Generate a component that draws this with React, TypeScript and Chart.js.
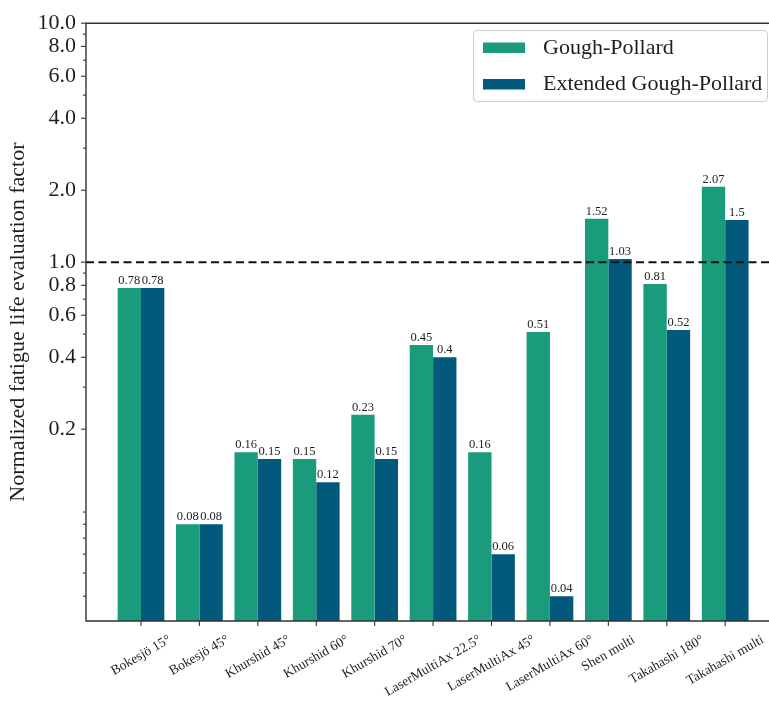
import React, { useEffect, useRef } from 'react';
import { Chart, registerables } from 'chart.js';

Chart.register(...registerables);

const CATEGORIES = [
  'Bokesjö 15°',
  'Bokesjö 45°',
  'Khurshid 45°',
  'Khurshid 60°',
  'Khurshid 70°',
  'LaserMultiAx 22.5°',
  'LaserMultiAx 45°',
  'LaserMultiAx 60°',
  'Shen multi',
  'Takahashi 180°',
  'Takahashi multi',
];
const GOUGH_POLLARD = [0.78, 0.08, 0.16, 0.15, 0.23, 0.45, 0.16, 0.51, 1.52, 0.81, 2.07];
const EXTENDED_GOUGH_POLLARD = [0.78, 0.08, 0.15, 0.12, 0.15, 0.4, 0.06, 0.04, 1.03, 0.52, 1.5];
const SERIES_LABELS = ['Gough-Pollard', 'Extended Gough-Pollard'];
const SERIES_COLORS = ['#1a9c7c', '#03597c'];
const Y_MAJOR_TICKS = [0.2, 0.4, 0.6, 0.8, 1, 2, 4, 6, 8, 10];
const Y_MINOR_TICKS = [0.04, 0.05, 0.06, 0.07, 0.08, 0.09, 0.3, 0.5, 0.7, 0.9, 3, 5, 7, 9];
const Y_MIN = 0.0315;
const Y_MAX = 10;
const REFERENCE_LEVEL = 1;
const Y_TITLE = 'Normalized fatigue life evaluation factor';

const SERIF = '"Liberation Serif", "Times New Roman", Times, serif';
const INK = '#1e1e1e';
const SPINE = '#333333';

const SERIES = [GOUGH_POLLARD, EXTENDED_GOUGH_POLLARD];

const overlay = {
  id: 'overlay',
  afterDatasetsDraw(chart: any) {
    const { ctx, chartArea, scales } = chart;
    const { left, right } = chartArea;
    const y = scales.y;
    ctx.save();

    // dashed reference line at 1.0, over the bars
    const yRef = y.getPixelForValue(REFERENCE_LEVEL);
    ctx.setLineDash([8, 4.5]);
    ctx.lineWidth = 2;
    ctx.strokeStyle = '#111111';
    ctx.beginPath();
    ctx.moveTo(left, yRef);
    ctx.lineTo(right, yRef);
    ctx.stroke();
    ctx.setLineDash([]);

    // value labels above each bar
    ctx.font = `12.5px ${SERIF}`;
    ctx.fillStyle = INK;
    ctx.textAlign = 'center';
    ctx.textBaseline = 'alphabetic';
    SERIES.forEach((values, di) => {
      const meta = chart.getDatasetMeta(di);
      meta.data.forEach((bar: any, i: number) => {
        ctx.fillText(String(values[i]), bar.x, bar.y - 4);
      });
    });
    ctx.restore();
  },
  afterDraw(chart: any) {
    const { ctx, chartArea, scales } = chart;
    const { left, right, top, bottom } = chartArea;
    const x = scales.x;
    const y = scales.y;
    ctx.save();

    // spines (left, top, bottom)
    ctx.strokeStyle = SPINE;
    ctx.lineWidth = 1.4;
    ctx.beginPath();
    ctx.moveTo(right, top);
    ctx.lineTo(left, top);
    ctx.lineTo(left, bottom);
    ctx.lineTo(right, bottom);
    ctx.stroke();

    // y tick marks: long for labelled, short for minor
    ctx.lineWidth = 1.1;
    Y_MAJOR_TICKS.forEach((v) => {
      const py = y.getPixelForValue(v);
      ctx.beginPath();
      ctx.moveTo(left - 5, py);
      ctx.lineTo(left, py);
      ctx.stroke();
    });
    Y_MINOR_TICKS.forEach((v) => {
      const py = y.getPixelForValue(v);
      ctx.beginPath();
      ctx.moveTo(left - 3, py);
      ctx.lineTo(left, py);
      ctx.stroke();
    });

    // x tick marks and rotated category labels
    ctx.font = `13.5px ${SERIF}`;
    ctx.fillStyle = INK;
    ctx.textAlign = 'center';
    ctx.textBaseline = 'middle';
    const ang = Math.PI / 6;
    CATEGORIES.forEach((label, i) => {
      const px = x.getPixelForValue(i);
      ctx.beginPath();
      ctx.moveTo(px, bottom);
      ctx.lineTo(px, bottom + 5);
      ctx.stroke();
      const w = ctx.measureText(label).width;
      const h = 13.5;
      const boxH = w * Math.sin(ang) + h * Math.cos(ang);
      ctx.save();
      ctx.translate(px, bottom + 12 + boxH / 2);
      ctx.rotate(-ang);
      ctx.fillText(label, 0, 0);
      ctx.restore();
    });

    // y axis title
    ctx.save();
    ctx.font = `22px ${SERIF}`;
    ctx.translate(18.5, (top + bottom) / 2);
    ctx.rotate(-Math.PI / 2);
    ctx.textAlign = 'center';
    ctx.textBaseline = 'middle';
    ctx.fillText(Y_TITLE, 0, 0);
    ctx.restore();

    // legend
    const lx = 473;
    const ly = 30;
    const lw = 295;
    const lh = 71;
    ctx.beginPath();
    ctx.roundRect(lx + 0.5, ly + 0.5, lw - 1, lh, 4);
    ctx.fillStyle = 'rgba(255,255,255,0.9)';
    ctx.fill();
    ctx.strokeStyle = '#cccccc';
    ctx.lineWidth = 1;
    ctx.stroke();
    ctx.font = `22px ${SERIF}`;
    ctx.textAlign = 'left';
    ctx.textBaseline = 'alphabetic';
    SERIES_LABELS.forEach((name, i) => {
      const rowY = ly + 12.5 + i * 36.5;
      ctx.fillStyle = SERIES_COLORS[i];
      ctx.fillRect(lx + 10, rowY, 42, 10.5);
      ctx.fillStyle = INK;
      ctx.fillText(name, lx + 70, rowY + 11);
    });

    ctx.restore();
  },
};

export default function App() {
  const canvasRef = useRef<HTMLCanvasElement | null>(null);

  useEffect(() => {
    const canvas = canvasRef.current;
    if (!canvas) return;
    const allYTicks = [...Y_MINOR_TICKS, ...Y_MAJOR_TICKS].sort((a, b) => a - b);
    const chart = new Chart(canvas, {
      type: 'bar',
      data: {
        datasets: SERIES.map((values, di) => ({
          label: SERIES_LABELS[di],
          data: values.map((v, i) => ({ x: i, y: v })),
          backgroundColor: SERIES_COLORS[di],
          borderWidth: 0,
          categoryPercentage: 0.8,
          barPercentage: 1.0,
        })),
      },
      options: {
        responsive: false,
        animation: false,
        devicePixelRatio: 1,
        layout: { padding: { top: 18, bottom: 80, left: 0, right: 0 } },
        plugins: {
          legend: { display: false },
          tooltip: { enabled: false },
        },
        scales: {
          x: {
            type: 'linear',
            min: -0.941,
            max: 10.75,
            offset: false,
            display: false,
            afterBuildTicks: (scale: any) => {
              scale.ticks = CATEGORIES.map((_, i) => ({ value: i }));
            },
          },
          y: {
            type: 'logarithmic',
            min: Y_MIN,
            max: Y_MAX,
            afterFit: (scale: any) => {
              scale.width = 86;
            },
            afterBuildTicks: (scale: any) => {
              scale.ticks = allYTicks.map((v) => ({ value: v }));
            },
            ticks: {
              autoSkip: false,
              padding: 10,
              color: INK,
              font: { family: SERIF, size: 22 },
              callback: (v: any) => (Y_MAJOR_TICKS.includes(Number(v)) ? Number(v).toFixed(1) : ''),
            },
            grid: { display: false, drawTicks: false },
            border: { display: false },
          },
        },
      } as any,
      plugins: [overlay],
    });
    return () => chart.destroy();
  }, []);

  return (
    <div style={{ position: 'absolute', left: 0, top: 0, width: 769, height: 701, background: '#ffffff' }}>
      <canvas ref={canvasRef} width={769} height={701} />
    </div>
  );
}
